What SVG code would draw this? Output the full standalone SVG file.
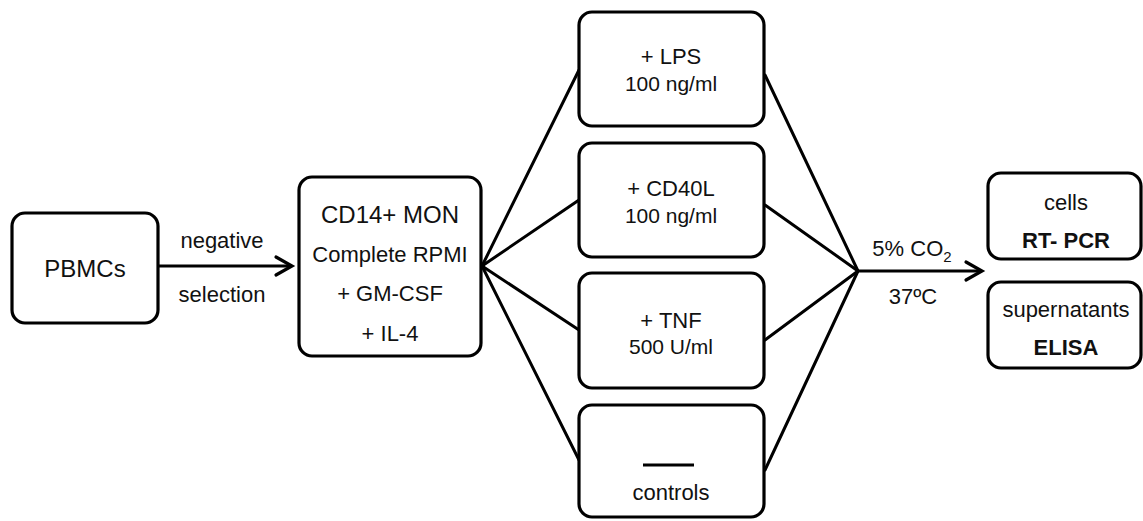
<svg xmlns="http://www.w3.org/2000/svg" width="1143" height="521" viewBox="0 0 1143 521">
  <defs>
    <style>
      .box { fill: #ffffff; stroke: #000000; stroke-width: 3.2; }
      .wire { fill: none; stroke: #000000; stroke-width: 3; stroke-linecap: round; }
      .head { fill: none; stroke: #000000; stroke-width: 3.2; stroke-linecap: round; stroke-linejoin: miter; }
      text { font-family: "Liberation Sans", Arial, sans-serif; font-size: 22px; fill: #111111; text-anchor: middle; }
      .big { font-size: 24px; }
      .conc { font-size: 21px; }
      .bold { font-weight: bold; }
    </style>
  </defs>
  <rect width="1143" height="521" fill="#ffffff"/>

  <!-- connectors -->
  <g id="connectors">
    <!-- PBMCs to monocytes -->
    <line class="wire" x1="158" y1="266" x2="291" y2="266"/>
    <polyline class="head" points="276,257 292,266 276,275"/>
    <!-- fan out to the four culture conditions -->
    <line class="wire" x1="482" y1="266" x2="579" y2="70"/>
    <line class="wire" x1="482" y1="266" x2="579" y2="200"/>
    <line class="wire" x1="482" y1="266" x2="579" y2="330"/>
    <line class="wire" x1="482" y1="266" x2="579" y2="460"/>
    <!-- fan in from the culture conditions -->
    <line class="wire" x1="765" y1="75" x2="858" y2="271"/>
    <line class="wire" x1="765" y1="205" x2="858" y2="271"/>
    <line class="wire" x1="765" y1="340" x2="858" y2="271"/>
    <line class="wire" x1="765" y1="470" x2="858" y2="271"/>
    <!-- incubation to readouts -->
    <line class="wire" x1="858" y1="271" x2="981" y2="271"/>
    <polyline class="head" points="966,262 982,271 966,280"/>
    <text x="912" y="256">5% CO<tspan font-size="15" dy="6">2</tspan></text>
    <text x="913" y="304">37ºC</text>
    <text x="222" y="248">negative</text>
    <text x="222" y="302">selection</text>
  </g>

  <g id="pbmcs">
    <rect class="box" x="12" y="213" width="146" height="110" rx="13"/>
    <text class="big" x="85" y="277">PBMCs</text>
  </g>

  <g id="monocytes">
    <rect class="box" x="299" y="177" width="182" height="179" rx="13"/>
    <text class="big" x="390" y="223">CD14+ MON</text>
    <text x="390" y="262">Complete RPMI</text>
    <text x="390" y="301">+ GM-CSF</text>
    <text x="390" y="341">+ IL-4</text>
  </g>

  <g id="lps">
    <rect class="box" x="579" y="12" width="185" height="114" rx="13"/>
    <text x="671" y="64">+ LPS</text>
    <text class="conc" x="671" y="91">100 ng/ml</text>
  </g>

  <g id="cd40l">
    <rect class="box" x="579" y="143" width="185" height="114" rx="13"/>
    <text x="671" y="196">+ CD40L</text>
    <text class="conc" x="671" y="223">100 ng/ml</text>
  </g>

  <g id="tnf">
    <rect class="box" x="579" y="273" width="185" height="115" rx="13"/>
    <text x="671" y="328">+ TNF</text>
    <text class="conc" x="671" y="354">500 U/ml</text>
  </g>

  <g id="controls">
    <rect class="box" x="579" y="405" width="185" height="112" rx="13"/>
    <line x1="643" y1="465" x2="694" y2="465" stroke="#000000" stroke-width="3"/>
    <text x="671" y="500">controls</text>
  </g>

  <g id="cells">
    <rect class="box" x="988" y="173" width="153" height="86" rx="13"/>
    <text x="1066" y="210">cells</text>
    <text class="bold" x="1066" y="248">RT- PCR</text>
  </g>

  <g id="supernatants">
    <rect class="box" x="988" y="282" width="153" height="86" rx="13"/>
    <text x="1066" y="317">supernatants</text>
    <text class="bold" x="1066" y="355">ELISA</text>
  </g>
</svg>
